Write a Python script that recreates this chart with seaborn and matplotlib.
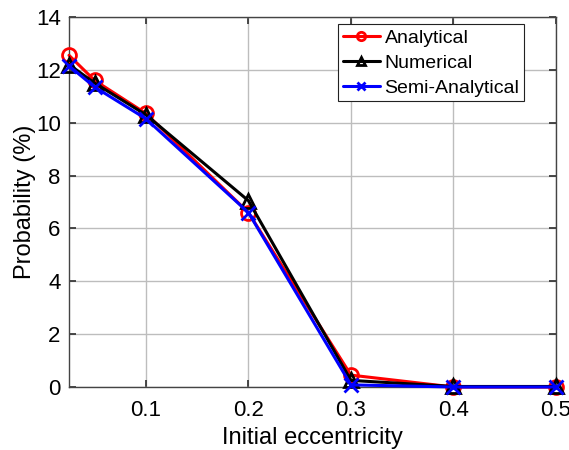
import matplotlib
matplotlib.use("Agg")
import matplotlib.pyplot as plt
import seaborn as sns
import pandas as pd

eccentricity = [0.025, 0.05, 0.1, 0.2, 0.3, 0.4, 0.5]
analytical = [12.55, 11.6, 10.35, 6.6, 0.45, 0.0, 0.0]
numerical = [12.2, 11.5, 10.3, 7.05, 0.25, 0.02, 0.02]
semi_analytical = [12.15, 11.35, 10.15, 6.6, 0.08, 0.0, 0.0]

series = ["Analytical", "Numerical", "Semi-Analytical"]
colors = ["#ff0000", "#000000", "#0000ff"]
markers = ["o", "^", "x"]

sns.set_theme(style="whitegrid")
plt.rcParams["font.family"] = ["Liberation Sans", "DejaVu Sans"]
plt.rcParams["text.color"] = "black"
plt.rcParams["axes.labelcolor"] = "black"
plt.rcParams["xtick.color"] = "#333333"
plt.rcParams["ytick.color"] = "#333333"
plt.rcParams["xtick.labelcolor"] = "black"
plt.rcParams["ytick.labelcolor"] = "black"

fig = plt.figure(figsize=(5.69, 4.5), dpi=100)
ax = fig.add_axes([69 / 569, 63 / 450, 487 / 569, 370 / 450])

for name, vals, c, m in zip(series, [analytical, numerical, semi_analytical], colors, markers):
    df = pd.DataFrame({"e": eccentricity, "p": vals})
    sns.lineplot(data=df, x="e", y="p", ax=ax, color=c, marker=m, markersize=10,
                 markerfacecolor="none" if m != "x" else c,
                 markeredgecolor=c, markeredgewidth=2, linewidth=2.2, label=name,
                 clip_on=False, zorder=3)

ax.set_xlim(0.025, 0.5)
ax.set_ylim(0, 14)
ax.set_xticks([0.1, 0.2, 0.3, 0.4, 0.5])
ax.set_xticklabels(["0.1", "0.2", "0.3", "0.4", "0.5"])
ax.set_yticks(range(0, 15, 2))
ax.set_xlabel("Initial eccentricity", fontsize=17, labelpad=5)
ax.set_ylabel("Probability (%)", fontsize=17, labelpad=0)
ax.tick_params(labelsize=16, direction="in", length=5,
               top=True, right=True, left=True, bottom=True)
ax.tick_params(axis="x", pad=9)
ax.tick_params(axis="y", pad=6)
ax.grid(True, color="#bdbdbd", linewidth=1)
ax.set_facecolor("white")
for s in ax.spines.values():
    s.set_visible(True)
    s.set_color("#444444")
    s.set_linewidth(1)

leg = ax.legend(loc="upper right", bbox_to_anchor=(0.935, 0.981), fontsize=14,
                frameon=True, fancybox=False, framealpha=1, edgecolor="#222222",
                handlelength=1.9, handletextpad=0.25, borderpad=0.25, labelspacing=0.38,
                borderaxespad=0, markerscale=0.6)
leg.get_frame().set_linewidth(0.8)

fig.savefig("out.png", dpi=100, facecolor="white")
